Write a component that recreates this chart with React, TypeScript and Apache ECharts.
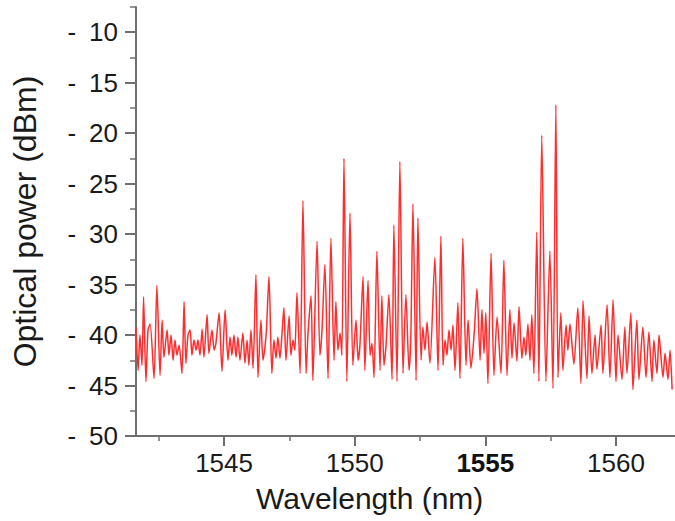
import React, { useEffect, useRef } from 'react';
import * as echarts from 'echarts';

const wavelengthNm = [
  1541.63, 1541.71, 1541.78, 1541.86, 1541.92, 1542.01, 1542.09, 1542.17, 1542.32, 1542.43,
  1542.55, 1542.63, 1542.70, 1542.82, 1542.89, 1542.97, 1543.05, 1543.12, 1543.20, 1543.28,
  1543.39, 1543.47, 1543.54, 1543.62, 1543.70, 1543.77, 1543.85, 1543.93, 1544.00, 1544.08,
  1544.16, 1544.23, 1544.35, 1544.42, 1544.54, 1544.62, 1544.69, 1544.81, 1544.92, 1545.04,
  1545.15, 1545.23, 1545.30, 1545.38, 1545.46, 1545.53, 1545.61, 1545.72, 1545.80, 1545.88,
  1545.95, 1546.03, 1546.11, 1546.22, 1546.30, 1546.41, 1546.49, 1546.61, 1546.72, 1546.83,
  1546.91, 1546.99, 1547.06, 1547.14, 1547.22,
  1547.29, 1547.37, 1547.49, 1547.56, 1547.64, 1547.71, 1547.79, 1547.91, 1548.02, 1548.14,
  1548.21, 1548.33, 1548.40, 1548.56, 1548.67, 1548.75, 1548.86, 1548.98, 1549.09, 1549.21,
  1549.28, 1549.36, 1549.44, 1549.51, 1549.59, 1549.70, 1549.82, 1549.93, 1550.05, 1550.13,
  1550.20, 1550.32, 1550.39, 1550.51, 1550.59, 1550.66, 1550.74, 1550.85, 1550.97, 1551.04,
  1551.12, 1551.20, 1551.31, 1551.43, 1551.50, 1551.62, 1551.73, 1551.85, 1551.96, 1552.08,
  1552.15, 1552.23, 1552.35, 1552.42, 1552.54, 1552.61, 1552.69, 1552.77, 1552.88, 1553.07,
  1553.19, 1553.30, 1553.38, 1553.46, 1553.53, 1553.61, 1553.69, 1553.76, 1553.84, 1553.95,
  1554.03, 1554.14, 1554.26, 1554.34, 1554.45, 1554.57, 1554.68, 1554.80,
  1554.87, 1554.95, 1555.02, 1555.10, 1555.22, 1555.33, 1555.45, 1555.60, 1555.71, 1555.83,
  1555.94, 1556.02, 1556.10, 1556.21, 1556.29, 1556.40, 1556.48, 1556.55, 1556.63, 1556.71,
  1556.78, 1556.86, 1556.97, 1557.05, 1557.16, 1557.32, 1557.47, 1557.59, 1557.70, 1557.78,
  1557.89, 1557.97, 1558.09, 1558.16, 1558.24, 1558.39, 1558.54, 1558.66, 1558.74, 1558.89,
  1558.97, 1559.08, 1559.20, 1559.27, 1559.43, 1559.50, 1559.66, 1559.77, 1559.89, 1560.00,
  1560.08, 1560.23, 1560.34, 1560.42, 1560.57, 1560.65, 1560.80, 1560.88, 1561.03, 1561.15,
  1561.26, 1561.38, 1561.45, 1561.57, 1561.65, 1561.80, 1561.88, 1561.99, 1562.07, 1562.15,
];

const powerDbm = [
  -39.2, -43.5, -40.0, -43.0, -36.2, -44.6, -39.5, -38.9, -44.3, -35.1,
  -44.0, -38.5, -42.2, -39.5, -42.0, -40.0, -42.5, -40.5, -42.0, -41.0,
  -43.8, -36.7, -42.8, -40.0, -39.5, -42.0, -40.5, -41.5, -40.5, -42.0,
  -39.4, -42.2, -38.0, -41.8, -39.5, -41.5, -40.8, -37.8, -43.6, -37.5,
  -42.5, -40.2, -42.0, -40.0, -42.2, -40.2, -42.5, -39.8, -42.8, -40.5,
  -43.0, -39.5, -43.3, -34.0, -44.2, -38.5, -42.5, -40.0, -34.2, -43.8,
  -40.5, -42.3, -40.2, -42.3, -39.8,
  -37.3, -42.5, -38.1, -42.0, -40.5, -41.5, -35.8, -43.8, -26.7, -43.8,
  -40.0, -36.1, -44.5, -30.7, -42.0, -39.5, -33.0, -44.3, -30.4, -42.5,
  -36.7, -41.5, -39.8, -42.0, -22.5, -44.6, -27.9, -43.0, -38.5, -42.5,
  -41.0, -34.2, -43.5, -34.6, -42.0, -40.8, -44.2, -31.7, -43.5, -36.1,
  -43.0, -41.0, -36.0, -44.4, -29.1, -44.6, -22.8, -43.8, -36.0, -43.5,
  -40.0, -27.0, -44.5, -28.4, -42.5, -39.2, -41.5, -38.7, -42.8, -32.3,
  -43.5, -30.2, -43.0, -40.5, -42.0, -39.5, -41.5, -39.0, -43.5, -36.8,
  -44.3, -30.4, -43.0, -38.5, -43.3, -40.0, -35.4, -42.5,
  -37.5, -41.8, -37.8, -44.8, -31.9, -44.0, -38.2, -43.8, -32.6, -44.0,
  -37.5, -42.3, -38.8, -42.6, -37.2, -42.3, -40.2, -42.0, -38.9, -42.5,
  -38.0, -43.8, -29.8, -44.6, -20.2, -44.6, -31.7, -45.3, -17.2, -44.2,
  -37.8, -43.5, -39.0, -41.5, -38.9, -42.9, -37.3, -44.8, -36.6, -44.3,
  -38.1, -43.8, -40.0, -43.4, -39.0, -43.8, -37.0, -44.2, -36.5, -44.6,
  -40.0, -44.4, -39.2, -43.8, -37.8, -45.4, -38.5, -44.4, -39.2, -44.2,
  -39.7, -44.6, -40.5, -43.8, -40.0, -44.2, -41.8, -44.4, -41.5, -45.4,
];

const xTickValues = [1545, 1550, 1555, 1560];
const xMinorTickValues = [1542.5, 1547.5, 1552.5, 1557.5];
const yTickValues = [-50, -45, -40, -35, -30, -25, -20, -15, -10];
const yMinorTickValues = [-47.5, -42.5, -37.5, -32.5, -27.5, -22.5, -17.5, -12.5, -7.5];
const boldXLabel = 1555;
const xRange = [1541.63, 1562.26];
const yRange = [-50, -7.5];

export default function App() {
  const ref = useRef<HTMLDivElement>(null);

  useEffect(() => {
    if (!ref.current) return;
    const chart = echarts.init(ref.current, null, { renderer: 'svg' });
    const font = 'Liberation Sans';
    const axisColor = '#6f6f6f';
    const textColor = '#1a1a1a';
    const n = Math.min(wavelengthNm.length, powerDbm.length);
    const data: number[][] = [];
    for (let i = 0; i < n; i++) data.push([wavelengthNm[i], powerDbm[i]]);

    const option: any = {
      animation: false,
      backgroundColor: '#ffffff',
      grid: { left: 136, right: 0, top: 7, bottom: 85, containLabel: false, outerBoundsMode: 'none' },
      xAxis: [
        {
          type: 'value',
          min: xRange[0],
          max: xRange[1],
          splitLine: { show: false },
          axisLine: { show: true, onZero: false, lineStyle: { color: axisColor, width: 2 } },
          axisTick: { show: true, customValues: xTickValues, length: 10, lineStyle: { color: axisColor, width: 2 } },
          axisLabel: {
            customValues: xTickValues,
            fontSize: 26,
            fontFamily: font,
            color: textColor,
            margin: 14,
            formatter: (v: number) => (v === boldXLabel ? '{b|' + v + '}' : String(v)),
            rich: { b: { fontSize: 26, fontFamily: font, color: '#111', fontWeight: 'bold' } },
          },
        },
        {
          type: 'value',
          position: 'bottom',
          min: xRange[0],
          max: xRange[1],
          splitLine: { show: false },
          axisLine: { show: false, onZero: false },
          axisTick: { show: true, customValues: xMinorTickValues, length: 5, lineStyle: { color: axisColor, width: 1.5 } },
          axisLabel: { show: false },
        },
      ],
      yAxis: [
        {
          type: 'value',
          position: 'left',
          min: yRange[0],
          max: yRange[1],
          splitLine: { show: false },
          axisLine: { show: true, onZero: false, lineStyle: { color: axisColor, width: 2 } },
          axisTick: { show: true, customValues: yTickValues, length: 11, lineStyle: { color: axisColor, width: 2 } },
          axisLabel: {
            customValues: yTickValues,
            fontSize: 26,
            fontFamily: font,
            color: textColor,
            margin: 18,
            formatter: (v: number) => '-\u2002' + Math.abs(v),
          },
          name: 'Optical power (dBm)',
          nameLocation: 'middle',
          nameGap: 95,
          nameTextStyle: { fontSize: 32, fontFamily: font, color: textColor },
        },
        {
          type: 'value',
          position: 'left',
          min: yRange[0],
          max: yRange[1],
          splitLine: { show: false },
          axisLine: { show: false, onZero: false },
          axisTick: { show: true, customValues: yMinorTickValues, length: 6, lineStyle: { color: axisColor, width: 1.5 } },
          axisLabel: { show: false },
        },
      ],
      graphic: [
        {
          type: 'text',
          left: 256,
          top: 483,
          style: { text: 'Wavelength (nm)', font: '30px "Liberation Sans"', fill: textColor },
        },
      ],
      series: [
        {
          type: 'line',
          data,
          showSymbol: false,
          symbol: 'none',
          smooth: 0.25,
          lineStyle: { color: '#ff2d2d', width: 1.5 },
          xAxisIndex: 0,
          yAxisIndex: 0,
        },
      ],
    };
    chart.setOption(option);
    return () => chart.dispose();
  }, []);

  return <div ref={ref} style={{ position: 'fixed', left: 0, top: 0, width: 675, height: 521 }} />;
}
